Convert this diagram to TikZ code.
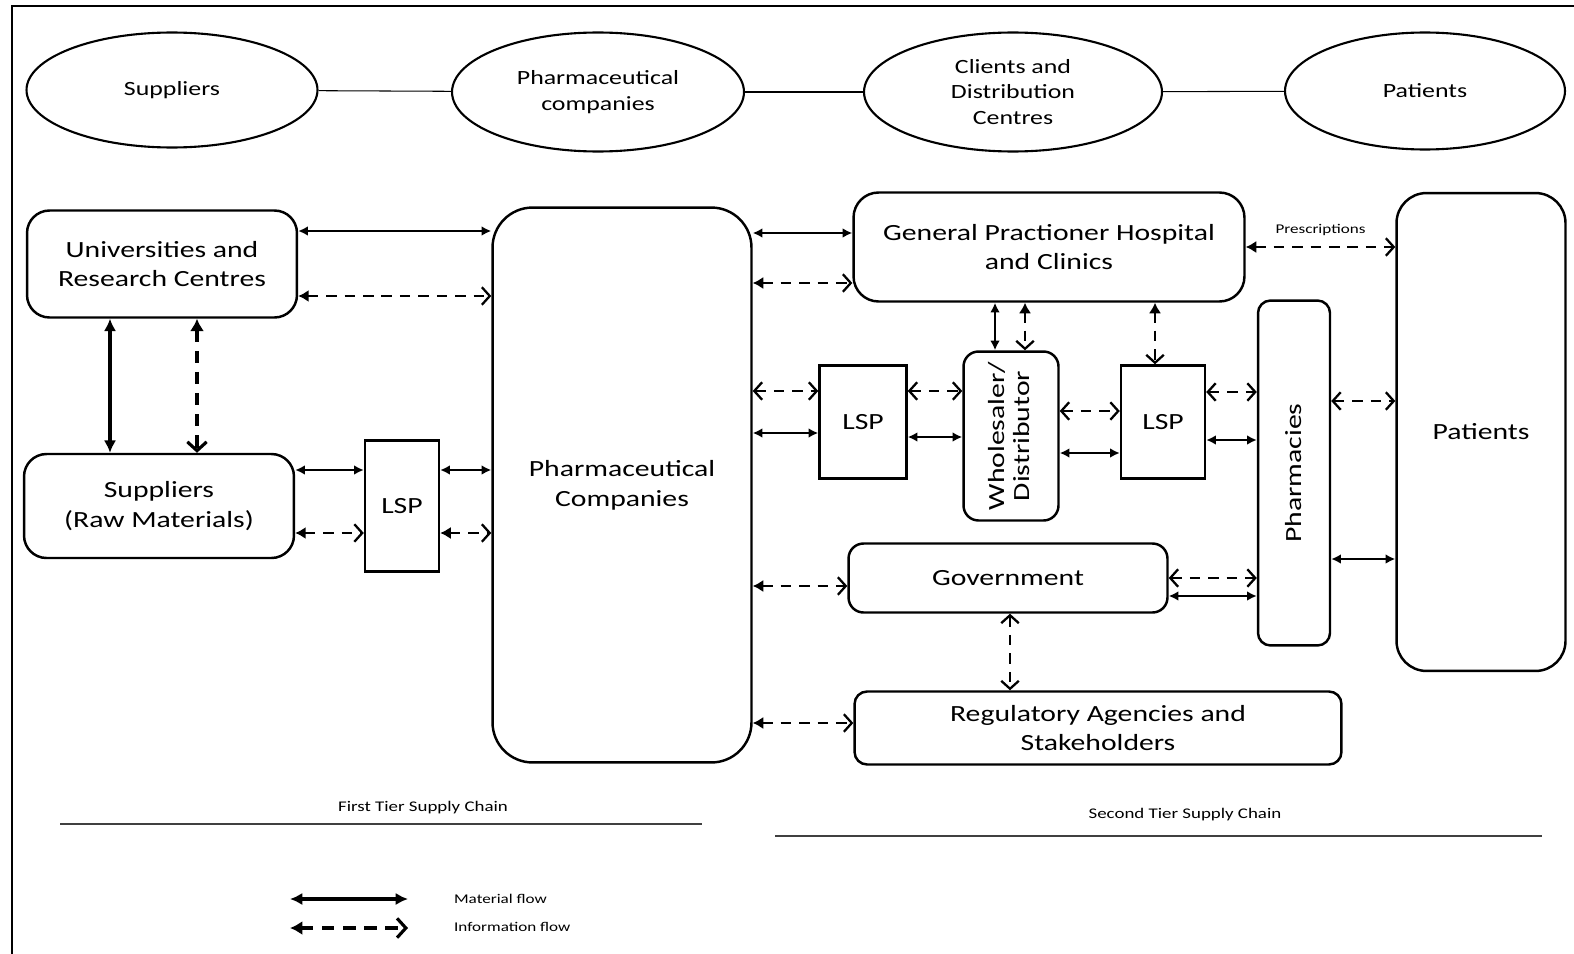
\documentclass[tikz,border=0pt]{standalone}
\usepackage{fontspec}
\setmainfont{Carlito}[FakeStretch=1.28]
\usetikzlibrary{arrows.meta, shapes.geometric, positioning}

\tikzset{
  box/.style={draw, line width=1.4pt, rounded corners=#1, align=center, inner sep=0pt,
    font=\fontsize{13.2}{17}\selectfont},
  box/.default=0.45cm,
  lspbox/.style={draw, line width=1.4pt, inner sep=0pt, minimum width=1.6cm, minimum height=2.26cm,
    font=\fontsize{13.2}{17}\selectfont},
  oval/.style={draw, ellipse, line width=1.2pt, align=center, inner sep=0pt,
    font=\fontsize{11.5}{14.7}\selectfont},
  mflow/.style={line width=1.1pt, {Latex[length=5.5pt,width=5.5pt]}-{Latex[length=5.5pt,width=5.5pt]}},
  mflowk/.style={line width=1.8pt, {Latex[length=7pt,width=7pt]}-{Latex[length=7pt,width=7pt]}},
  iflow/.style={line width=1.3pt, dash pattern=on 6pt off 4.5pt,
    {Latex[length=6pt,width=7pt]}-{Straight Barb[length=4.5pt,width=10pt]}},
  iflowo/.style={line width=1.3pt, dash pattern=on 6pt off 4.5pt,
    {Straight Barb[length=4.5pt,width=10pt]}-{Straight Barb[length=4.5pt,width=10pt]}},
  iflowk/.style={line width=1.8pt, dash pattern=on 7pt off 5pt,
    {Latex[length=7pt,width=8pt]}-{Straight Barb[length=5pt,width=11pt]}},
  small/.style={font=\fontsize{7.6}{9}\selectfont, inner sep=1pt},
  tier/.style={font=\fontsize{8.4}{10}\selectfont, inner sep=1pt},
}

\begin{document}
\begin{tikzpicture}[x=0.02cm, y=-0.02cm]
    \useasboundingbox (0,0) rectangle (1574,953);
    \clip (0,0) rectangle (1574,953);
    % frame
    \draw[line width=1.2pt] (12,6) rectangle (1600,980);

    % top row of ellipses
    \node[oval, minimum width=5.82cm, minimum height=2.3cm] (eSup) at (172,90) {Suppliers};
    \node[oval, minimum width=5.84cm, minimum height=2.38cm] (ePhar) at (598,92) {Pharmaceutical\\companies};
    \node[oval, minimum width=5.96cm, minimum height=2.38cm] (eCli) at (1013,92) {Clients and\\Distribution\\Centres};
    \node[oval, minimum width=5.6cm, minimum height=2.34cm] (ePat) at (1425,91) {Patients};
    \draw[line width=0.6pt] (eSup) -- (ePhar);
    \draw[line width=0.6pt] (ePhar) -- (eCli);
    \draw[line width=0.6pt] (eCli) -- (ePat);

    % first tier boxes
    \node[box, minimum width=5.4cm, minimum height=2.14cm] (univ) at (162,264) {Universities and\\Research Centres};
    \node[box, minimum width=5.4cm, minimum height=2.08cm] (sup) at (159,506) {Suppliers\\(Raw Materials)};
    \node[lspbox, minimum width=1.48cm, minimum height=2.62cm] (lspA) at (402,506) {LSP};
    \node[box=0.8cm, minimum width=5.18cm, minimum height=11.1cm] (pharma) at (622,485) {Pharmaceutical\\Companies};

    % second tier boxes
    \node[box=0.5cm, minimum width=7.82cm, minimum height=2.18cm] (gp) at (1049,247) {General Practioner Hospital\\and Clinics};
    \node[lspbox, minimum width=1.74cm] (lspB) at (863,422) {LSP};
    \node[box=0.3cm, minimum width=1.9cm, minimum height=3.38cm] (whole) at (1011,436)
        {\rotatebox{90}{\begin{tabular}{@{}c@{}}Wholesaler/\\[-3pt]Distributor\end{tabular}}};
    \node[lspbox, minimum width=1.68cm] (lspC) at (1163,422) {LSP};
    \node[box=0.25cm, minimum width=1.44cm, minimum height=6.9cm] (pharm) at (1294,473) {\rotatebox{90}{Pharmacies}};
    \node[box=0.6cm, minimum width=3.38cm, minimum height=9.56cm] (pat) at (1481,432) {Patients};
    \node[box=0.3cm, minimum width=6.38cm, minimum height=1.38cm] (gov) at (1008,578) {Government};
    \node[box=0.25cm, minimum width=9.74cm, minimum height=1.46cm] (reg) at (1098,728) {Regulatory Agencies and\\Stakeholders};

    % first tier flows
    \draw[mflow] (univ.east |- 0,231) -- (pharma.west |- 0,231);
    \draw[iflow] (univ.east |- 0,296) -- (pharma.west |- 0,296);
    \draw[mflowk] (univ.south -| 110,0) -- (sup.north -| 110,0);
    \draw[iflowk] (univ.south -| 197,0) -- (sup.north -| 197,0);
    \draw[mflow] (sup.east |- 0,470) -- (lspA.west |- 0,470);
    \draw[iflow] (sup.east |- 0,533) -- (lspA.west |- 0,533);
    \draw[mflow] (lspA.east |- 0,470) -- (pharma.west |- 0,470);
    \draw[iflow] (lspA.east |- 0,533) -- (pharma.west |- 0,533);

    % second tier flows
    \draw[mflow] (pharma.east |- 0,233) -- (gp.west |- 0,233);
    \draw[iflow] (pharma.east |- 0,283) -- (gp.west |- 0,283);
    \draw[iflowo] (pharma.east |- 0,391) -- (lspB.west |- 0,391);
    \draw[mflow] (pharma.east |- 0,433) -- (lspB.west |- 0,433);
    \draw[iflowo] (lspB.east |- 0,391) -- (whole.west |- 0,391);
    \draw[mflow] (lspB.east |- 0,437) -- (whole.west |- 0,437);
    \draw[mflow] (gp.south -| 995,0) -- (whole.north -| 995,0);
    \draw[iflow] (gp.south -| 1025,0) -- (whole.north -| 1025,0);
    \draw[iflow] (gp.south -| 1155,0) -- (lspC.north -| 1155,0);
    \draw[iflowo] (whole.east |- 0,411) -- (lspC.west |- 0,411);
    \draw[mflow] (whole.east |- 0,453) -- (lspC.west |- 0,453);
    \draw[iflowo] (lspC.east |- 0,392) -- (pharm.west |- 0,392);
    \draw[mflow] (lspC.east |- 0,440) -- (pharm.west |- 0,440);
    \draw[iflow] (gp.east |- 0,247) -- node[above=5pt, small] {Prescriptions} (pat.west |- 0,247);
    \draw[iflowo] (pharm.east |- 0,401) -- (pat.west |- 0,401);
    \draw[mflow] (pharm.east |- 0,559) -- (pat.west |- 0,559);
    \draw[iflow] (pharma.east |- 0,586) -- (gov.west |- 0,586);
    \draw[iflowo] (gov.east |- 0,578) -- (pharm.west |- 0,578);
    \draw[mflow] (gov.east |- 0,596) -- (pharm.west |- 0,596);
    \draw[iflowo] (gov.south -| 1010,0) -- (reg.north -| 1010,0);
    \draw[iflow] (pharma.east |- 0,723) -- (reg.west |- 0,723);

    % tiers
    \node[tier] (tierA) at (423,808) {First Tier Supply Chain};
    \draw[line width=0.9pt, black!75] (60,824) -- (702,824);
    \node[tier] (tierB) at (1185,815) {Second Tier Supply Chain};
    \draw[line width=0.9pt, black!75] (775,836) -- (1542,836);

    % legend
    \coordinate (legA1) at (290,899);
    \coordinate (legA2) at (408,899);
    \coordinate (legB1) at (290,928);
    \coordinate (legB2) at (408,928);
    \draw[mflowk] (legA1) -- (legA2);
    \draw[iflowk] (legB1) -- (legB2);
    \node[small, anchor=west] (legAt) at (452,899) {Material flow};
    \node[small, anchor=west] (legBt) at (452,927) {Information flow};
\end{tikzpicture}
\end{document}
